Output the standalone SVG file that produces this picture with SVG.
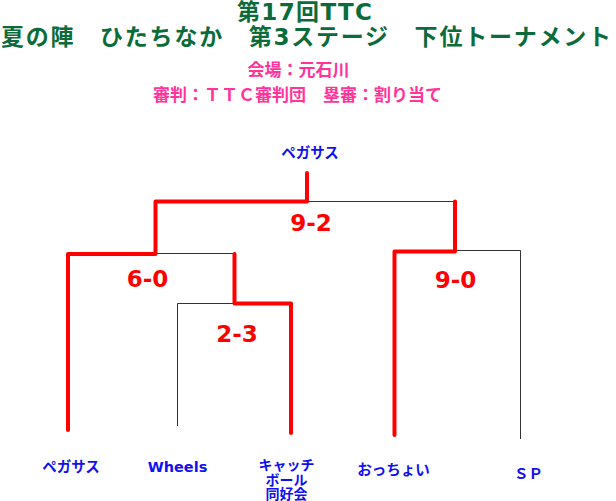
<svg xmlns="http://www.w3.org/2000/svg" width="616" height="501" viewBox="0 0 616 501">
<style>
.title{font-family:"DejaVu Sans","Noto Sans CJK JP",sans-serif;font-weight:bold;fill:#0b6b3a;font-size:23px;text-anchor:middle}
.sub{font-family:"DejaVu Sans","Noto Sans CJK JP",sans-serif;font-weight:bold;fill:#ff3399;font-size:17px;text-anchor:middle}
.team{font-family:"DejaVu Sans","Noto Sans CJK JP",sans-serif;font-weight:bold;fill:#1010f0;font-size:14.5px;text-anchor:middle}
.small{font-size:14px}
.score{font-family:"DejaVu Sans","Noto Sans CJK JP",sans-serif;font-weight:bold;fill:#ff0000;font-size:23px;text-anchor:middle}
.thin{fill:none;stroke:#333;stroke-width:1}
.win{fill:none;stroke:#ff0000;stroke-width:4;stroke-linecap:round;stroke-linejoin:round}
</style>
<g id="header">
<text class="title" x="304.5" y="20" textLength="135">第17回TTC</text>
<text class="title" x="306" y="44.5" textLength="610">夏の陣　ひたちなか　第3ステージ　下位トーナメント</text>
<text class="sub" x="298.5" y="76">会場：元石川</text>
<text class="sub" x="297.5" y="101">審判：ＴＴＣ審判団　塁審：割り当て</text>
</g>
<g id="connectors">
<path class="thin" d="M307 201.5H455"/>
<path class="thin" d="M155.5 253.5H234.5"/>
<path class="thin" d="M177.5 426V303.5H234.5"/>
<path class="thin" d="M455 250.5H520.5V439"/>
<path class="win" d="M307 173V201.5H155.5V254H68V430"/>
<path class="win" d="M234.5 254V303.5H291V433"/>
<path class="win" d="M455 201.5V251.5H394.5V435"/>
</g>
<g id="winner"><text class="team" x="310" y="158">ペガサス</text></g>
<g id="team-pegasus"><text class="team" x="71" y="472">ペガサス</text></g>
<g id="team-wheels"><text class="team" x="177.5" y="472">Wheels</text></g>
<g id="team-catch"><text class="team small" x="286.5" y="470"><tspan x="286.5" y="470">キャッチ</tspan><tspan x="286.5" y="484.5">ボール</tspan><tspan x="286.5" y="499">同好会</tspan></text></g>
<g id="team-occhoi"><text class="team" x="393.5" y="475">おっちょい</text></g>
<g id="team-sp"><text class="team" x="528.5" y="479">ＳＰ</text></g>
<g id="scores">
<text class="score" x="311" y="231">9-2</text>
<text class="score" x="147.5" y="287">6-0</text>
<text class="score" x="237" y="342">2-3</text>
<text class="score" x="455.5" y="288">9-0</text>
</g>
</svg>
